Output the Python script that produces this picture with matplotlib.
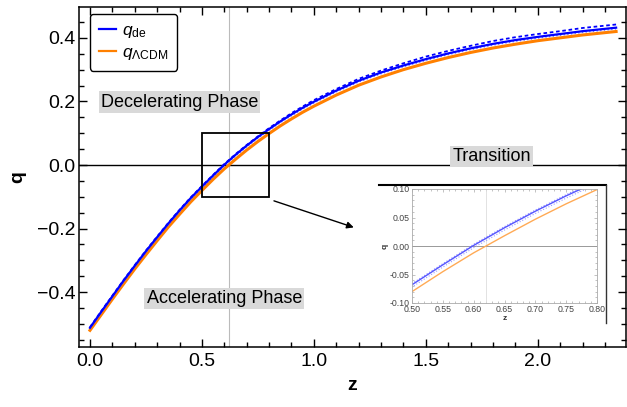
import matplotlib
matplotlib.use('Agg')
import matplotlib.pyplot as plt
from matplotlib.patches import Rectangle
from matplotlib.lines import Line2D
from matplotlib.ticker import MultipleLocator, FormatStrFormatter

plt.rcParams['font.family'] = ['Liberation Sans', 'DejaVu Sans']
plt.rcParams['mathtext.fontset'] = 'custom'
plt.rcParams['mathtext.rm'] = 'Liberation Sans'
plt.rcParams['mathtext.it'] = 'Liberation Sans:italic'

# values
z = [0.0, 0.05, 0.1, 0.15, 0.2, 0.25, 0.3, 0.35, 0.4, 0.45, 0.5, 0.55, 0.6, 0.65, 0.7,
     0.75, 0.8, 0.85, 0.9, 0.95, 1.0, 1.1, 1.2, 1.3, 1.4, 1.5, 1.6, 1.7, 1.8, 1.9,
     2.0, 2.1, 2.2, 2.35]
q_lcdm = [-0.520, -0.471, -0.422, -0.374, -0.327, -0.282, -0.238, -0.195, -0.155, -0.116,
          -0.080, -0.045, -0.012, 0.018, 0.047, 0.074, 0.099, 0.123, 0.145, 0.166,
          0.185, 0.220, 0.251, 0.277, 0.300, 0.320, 0.338, 0.354, 0.368, 0.380,
          0.391, 0.400, 0.409, 0.420]
q_de = [-0.512, -0.462, -0.413, -0.364, -0.317, -0.271, -0.227, -0.184, -0.143, -0.104,
        -0.068, -0.033, 0.001, 0.032, 0.061, 0.088, 0.113, 0.137, 0.159, 0.180,
        0.199, 0.234, 0.265, 0.291, 0.313, 0.333, 0.351, 0.367, 0.381, 0.393,
        0.403, 0.412, 0.421, 0.432]
q_de_up = [-0.510, -0.460, -0.411, -0.362, -0.315, -0.269, -0.225, -0.182, -0.141, -0.102,
           -0.066, -0.031, 0.003, 0.034, 0.063, 0.090, 0.116, 0.140, 0.163, 0.184,
           0.204, 0.239, 0.271, 0.297, 0.320, 0.341, 0.359, 0.375, 0.390, 0.402,
           0.412, 0.421, 0.431, 0.442]
q_de_lo = [-0.515, -0.466, -0.417, -0.368, -0.321, -0.275, -0.231, -0.188, -0.147, -0.108,
           -0.072, -0.037, -0.003, 0.028, 0.057, 0.084, 0.109, 0.133, 0.155, 0.176,
           0.195, 0.230, 0.261, 0.287, 0.309, 0.329, 0.347, 0.363, 0.377, 0.389,
           0.399, 0.408, 0.417, 0.428]

z_transition = 0.62
zoom_box = (0.5, 0.8, -0.1, 0.1)

blue = '#0000ff'
orange = '#ff8000'

fig = plt.figure(figsize=(6.27, 4.07), dpi=100)
ax = fig.add_axes([0.126, 0.147, 0.872, 0.835])

ax.axvline(z_transition, color='#bbbbbb', lw=0.8, zorder=1)
ax.axhline(0, color='black', lw=1.0, zorder=1)
ax.plot(z, q_lcdm, color=orange, lw=2.2, zorder=3)
ax.plot(z, q_de_lo, color='#7777ff', lw=1.0, ls=':', zorder=4)
ax.plot(z, q_de_up, color=blue, lw=1.3, ls=(0, (2, 1.5)), zorder=4)
ax.plot(z, q_de, color=blue, lw=1.6, zorder=5)

ax.set_xlim(-0.049, 2.393)
ax.set_ylim(-0.573, 0.496)
ax.xaxis.set_major_locator(MultipleLocator(0.5))
ax.xaxis.set_minor_locator(MultipleLocator(0.1))
ax.yaxis.set_major_locator(MultipleLocator(0.2))
ax.yaxis.set_minor_locator(MultipleLocator(0.05))
ax.tick_params(which='both', direction='in', top=True, right=True, labelsize=14, width=1)
ax.tick_params(which='major', length=6)
ax.tick_params(which='minor', length=3.5)
ax.tick_params(axis='y', pad=2.5)
ax.tick_params(axis='x', pad=4)
for s in ax.spines.values():
    s.set_linewidth(1.1)
ax.set_xlabel('z', fontsize=14, fontweight='bold', labelpad=5)
ax.set_ylabel('q', fontsize=14, fontweight='bold', labelpad=8)

ax.add_patch(Rectangle((zoom_box[0], zoom_box[2]), zoom_box[1] - zoom_box[0],
                       zoom_box[3] - zoom_box[2], fill=False, ec='black', lw=1.3, zorder=6))
ax.annotate('', xy=(1.19, -0.199), xytext=(0.81, -0.11),
            arrowprops=dict(arrowstyle='-|>', color='black', lw=1.0, mutation_scale=10))

box = dict(facecolor='#d9d9d9', edgecolor='none', pad=1.5)
ax.text(0.40, 0.198, 'Decelerating Phase', fontsize=13, ha='center', va='center', bbox=box)
ax.text(0.60, -0.42, 'Accelerating Phase', fontsize=13, ha='center', va='center', bbox=box)
ax.text(1.795, 0.027, 'Transition', fontsize=13, ha='center', va='center', bbox=box)

handles = [Line2D([], [], color=blue, lw=1.6), Line2D([], [], color=orange, lw=1.6)]
leg = ax.legend(handles, [r'$q_{\rm de}$', r'$q_{\Lambda\rm CDM}$'], loc='upper left',
                bbox_to_anchor=(0.02, 0.981), borderaxespad=0, fontsize=12.5,
                fancybox=True, framealpha=1, edgecolor='black', handlelength=1.0,
                handletextpad=0.35, borderpad=0.5, labelspacing=0.3)
leg.get_frame().set_linewidth(1.0)

# inset image frame (top and right edges)
W, H = 627.0, 407.0
fig.patches.append(Rectangle((379 / W, 1 - 323 / H), (606 - 379) / W, (323 - 185) / H,
                             transform=fig.transFigure, fc='white', ec='none', zorder=2))
fig.lines.append(Line2D([379 / W, 606 / W], [1 - 185 / H, 1 - 185 / H],
                        transform=fig.transFigure, color='black', lw=1.5, zorder=3))
fig.lines.append(Line2D([606 / W, 606 / W], [1 - 185 / H, 1 - 323 / H],
                        transform=fig.transFigure, color='#333333', lw=1.0, zorder=3))

ins = fig.add_axes([412 / W, 1 - 303 / H, 185 / W, 114 / H])
ins.set_zorder(5)
ins.axvline(z_transition, color='#dddddd', lw=0.6)
ins.axhline(0, color='#999999', lw=0.7)
ins.plot(z, q_lcdm, color='#ffaa55', lw=1.0)
ins.plot(z, q_de_lo, color='#9999ff', lw=0.8, ls=':')
ins.plot(z, q_de_up, color='#8888ff', lw=0.8, ls=':')
ins.plot(z, q_de, color='#5555ff', lw=1.0)
ins.set_xlim(zoom_box[0], zoom_box[1])
ins.set_ylim(zoom_box[2], zoom_box[3])
ins.xaxis.set_major_locator(MultipleLocator(0.05))
ins.xaxis.set_minor_locator(MultipleLocator(0.01))
ins.yaxis.set_major_locator(MultipleLocator(0.05))
ins.yaxis.set_minor_locator(MultipleLocator(0.01))
ins.xaxis.set_major_formatter(FormatStrFormatter('%.2f'))
ins.yaxis.set_major_formatter(FormatStrFormatter('%.2f'))
ins.tick_params(which='both', direction='in', top=True, right=True, labelsize=6.3,
                color='#aaaaaa', labelcolor='#444444', width=0.5, pad=1.5)
ins.tick_params(which='major', length=2.5)
ins.tick_params(which='minor', length=1.2)
for s in ins.spines.values():
    s.set_color('#aaaaaa')
    s.set_linewidth(0.6)
ins.set_xlabel('z', fontsize=6, fontweight='bold', labelpad=1, color='#333333')
ins.set_ylabel('q', fontsize=6, fontweight='bold', labelpad=1, color='#333333')

fig.savefig('out.png', dpi=100)
